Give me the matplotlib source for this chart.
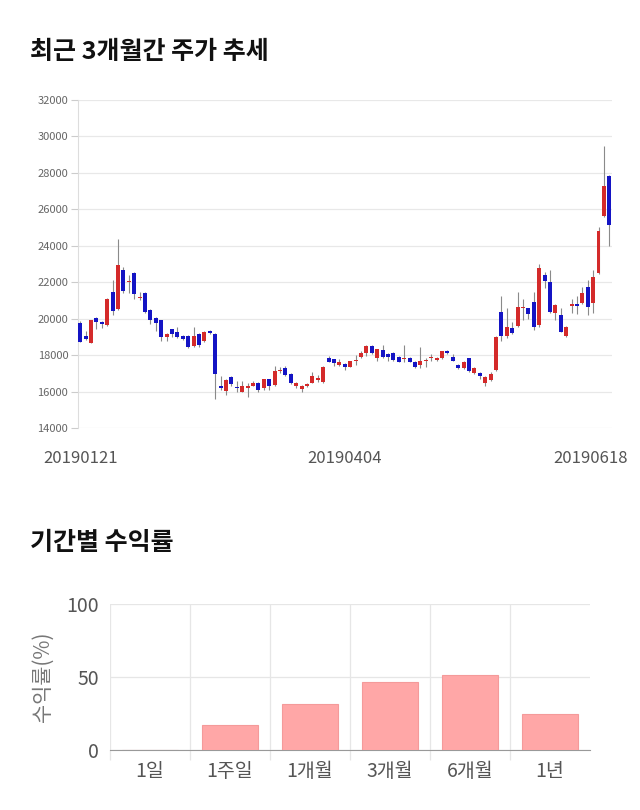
import numpy as np
import matplotlib
matplotlib.use("Agg")
import matplotlib.pyplot as plt
import matplotlib.transforms as mtransforms

plt.rcParams['font.family'] = ['Noto Sans CJK KR', 'DejaVu Sans']

# ---- candle data (KRW), one entry per trading day 2019-01-21 .. 2019-06-18
opens = [19780, 19050, 18650, 20020, 19800, 19650, 21450, 20530, 22670, 21990,
         22490, 21120, 21430, 20470, 20020, 19930, 18990, 19420, 19290, 19050,
         19050, 18520, 19160, 18790, 19320, 19160, 16300, 16030, 16780, 16200,
         15990, 16220, 16330, 16450, 16180, 16670, 16370, 17150, 17310, 16960,
         16310, 16130, 16300, 16490, 16660, 16510, 17860, 17770, 17460, 17500,
         17370, 17660, 17880, 18130, 18500, 17830, 18280, 18060, 18100, 17920,
         17770, 17860, 17640, 17460, 17660, 17850, 17730, 17820, 18240, 17920,
         17460, 17280, 17820, 17010, 17040, 16450, 16630, 17180, 20350, 19070,
         19510, 19620, 20580, 20570, 20900, 19650, 22400, 22030, 20300, 20200,
         19050, 20710, 20790, 20840, 21750, 20880, 22520, 25650, 27830]
highs = [19850, 19350, 19950, 20100, 19850, 21150, 22120, 24360, 22850, 22400,
         22550, 21480, 21450, 20550, 20100, 19950, 19200, 19450, 19560, 19100,
         19100, 19560, 19200, 19350, 19380, 19200, 16850, 16700, 16850, 16580,
         16600, 16450, 16600, 16550, 16700, 16700, 17400, 17360, 17400, 17000,
         16550, 16350, 16450, 17100, 16900, 17400, 17950, 17800, 17800, 17550,
         17700, 18000, 18250, 18550, 18550, 18350, 18550, 18100, 18150, 17950,
         18570, 17900, 17680, 18450, 17850, 18050, 17900, 18250, 18300, 18050,
         17500, 17650, 17850, 17350, 17100, 16850, 17100, 19050, 21250, 20600,
         19800, 21490, 21080, 20600, 21450, 23000, 22580, 22650, 20800, 20600,
         19600, 21060, 21260, 21750, 22100, 22650, 25050, 29500, 27900]
lows = [18700, 18850, 18650, 19430, 19470, 19600, 20200, 20500, 21400, 21400,
        21100, 21020, 20300, 19700, 19300, 18800, 18800, 19000, 18950, 18850,
        18400, 18450, 18450, 18700, 19150, 15570, 16100, 15810, 16300, 15990,
        15950, 15720, 16280, 16000, 16100, 16100, 16300, 17000, 16880, 16400,
        16200, 16000, 16250, 16450, 16500, 16480, 17600, 17400, 17400, 17200,
        17350, 17450, 17850, 17950, 18050, 17700, 17850, 17650, 17700, 17600,
        17600, 17600, 17300, 17300, 17350, 17650, 17650, 17800, 18050, 17650,
        17250, 17250, 17050, 16950, 16700, 16300, 16600, 17150, 18800, 18950,
        19150, 19550, 19920, 20000, 19400, 19550, 21700, 20300, 19900, 19250,
        19000, 20290, 20260, 20800, 20200, 20300, 22450, 25600, 24000]
closes = [18740, 18880, 19920, 19840, 19690, 21080, 20440, 22950, 21540, 22060,
          21330, 21200, 20380, 19930, 19780, 18980, 19150, 19160, 18980, 18900,
          18460, 19050, 18560, 19280, 19200, 16960, 16180, 16630, 16410, 16180,
          16300, 16270, 16480, 16080, 16670, 16300, 17130, 17180, 16910, 16450,
          16490, 16300, 16400, 16850, 16690, 17360, 17640, 17550, 17640, 17370,
          17680, 17690, 18130, 18500, 18130, 18320, 17910, 17880, 17730, 17640,
          17860, 17640, 17370, 17680, 17680, 17870, 17820, 18240, 18100, 17700,
          17310, 17600, 17130, 17310, 16870, 16820, 16950, 19010, 19050, 19530,
          19230, 20660, 20620, 20250, 19560, 22760, 22070, 20350, 20750, 19290,
          19560, 20790, 20710, 21390, 20660, 22270, 24810, 27300, 25140]
date_ticks = [0, 49, 98]
date_labels = ['20190121', '20190404', '20190618']

# ---- period returns (%)
periods = ['1일', '1주일', '1개월', '3개월', '6개월', '1년']
returns = [0.0, 16.9, 31.7, 46.6, 51.1, 24.7]

fig = plt.figure(figsize=(6.4, 8.1), dpi=100)

fig.text(30 / 640, 1 - 52 / 810, '최근 3개월간 주가 추세', fontsize=18,
         fontweight='bold', va='center', ha='left', color='#111111')
fig.text(30 / 640, 1 - 543 / 810, '기간별 수익률', fontsize=18,
         fontweight='bold', va='center', ha='left', color='#111111')

# -------------------------
# Candlestick chart
ax = fig.add_axes([78 / 640, 1 - 428 / 810, (612 - 78) / 640, 328 / 810])
o = np.array(opens)
h = np.array(highs)
l = np.array(lows)
c = np.array(closes)
x = np.arange(len(o))
up = c >= o
colors = np.where(up, '#d42a2a', '#1414c4')

ax.vlines(x, l, h, color='#8a8a8a', linewidth=0.8, zorder=2)
body_lo = np.minimum(o, c)
body_h = np.maximum(np.abs(c - o), 60)
ax.bar(x, body_h, bottom=body_lo, width=0.74, color=colors, linewidth=0, zorder=3)

ax.set_xlim(-0.4, len(o) - 0.5)
ax.set_ylim(14000, 32000)
ax.set_yticks(np.arange(14000, 32001, 2000))
ax.grid(axis='y', color='#e8e8e8', linewidth=0.9)
ax.set_axisbelow(True)
for s in ['top', 'right', 'bottom']:
    ax.spines[s].set_visible(False)
ax.spines['left'].set_color('#dddddd')
ax.tick_params(axis='y', labelsize=8, labelcolor='#666666', color='#cccccc',
               length=5, width=0.8, pad=2)
ax.set_xticks(date_ticks)
ax.set_xticklabels(date_labels)
ax.tick_params(axis='x', length=0, labelsize=12, labelcolor='#555555', pad=16)
last = ax.get_xticklabels()[-1]
last.set_transform(last.get_transform() +
                   mtransforms.ScaledTranslation(-19 / 100, 0, fig.dpi_scale_trans))

# -------------------------
# Period returns bar chart
ax2 = fig.add_axes([110 / 640, 1 - 750 / 810, 480 / 640, 146 / 810])
xb = np.arange(len(periods))
ax2.bar(xb, returns, width=0.7, color='#ffa7a7', edgecolor='#f49a9a',
        linewidth=0.8, zorder=3)
ax2.set_xlim(-0.5, len(periods) - 0.5)
ax2.set_ylim(0, 100)
ax2.set_yticks([0, 50, 100])
ax2.set_xticks(xb)
ax2.set_xticklabels(periods)
ax2.set_xticks(np.arange(-0.5, len(periods) - 1), minor=True)
ax2.grid(axis='y', color='#e6e6e6', linewidth=0.9)
ax2.grid(axis='x', which='minor', color='#e6e6e6', linewidth=0.9)
ax2.set_axisbelow(True)
for s in ['top', 'right', 'left']:
    ax2.spines[s].set_visible(False)
ax2.spines['bottom'].set_color('#999999')
ax2.tick_params(axis='x', which='major', length=0, labelsize=14,
                labelcolor='#555555', pad=8)
ax2.tick_params(axis='x', which='minor', length=7, color='#e6e6e6', width=0.9)
ax2.tick_params(axis='y', length=0, labelsize=14, labelcolor='#555555', pad=8)
ax2.set_ylabel('수익률(%)', fontsize=15, color='#777777', labelpad=9)

fig.savefig('out.png', dpi=100, facecolor='white')
